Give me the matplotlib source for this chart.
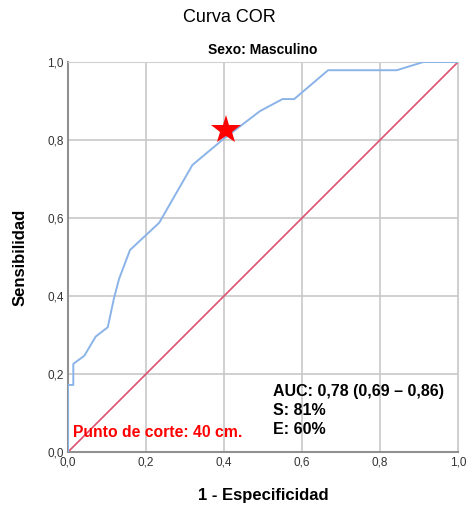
import matplotlib
matplotlib.use("Agg")
import matplotlib.pyplot as plt
from matplotlib.ticker import FuncFormatter

# ROC curve
fpr = [0.0, 0.0, 0.0136, 0.0136, 0.042, 0.071, 0.102, 0.118, 0.131, 0.159,
       0.234, 0.319, 0.398, 0.492, 0.55, 0.58, 0.667, 0.843, 0.911, 1.0]
tpr = [0.0, 0.172, 0.172, 0.226, 0.247, 0.296, 0.32, 0.395, 0.444, 0.518,
       0.588, 0.736, 0.802, 0.874, 0.905, 0.905, 0.979, 0.979, 1.0, 1.0]
cut_x, cut_y = 0.405, 0.825
ticks = [0.0, 0.2, 0.4, 0.6, 0.8, 1.0]

plt.rcParams['font.family'] = ['Liberation Sans', 'DejaVu Sans']

fig = plt.figure(figsize=(4.68, 5.08), dpi=100)
ax = fig.add_axes([0.1453, 0.1102, 0.8333, 0.7677])

ax.plot([0, 1], [0, 1], color='#e0506e', lw=1.2, zorder=2)
ax.plot(fpr, tpr, color='#8ab4e8', lw=1.4, zorder=3)
ax.plot(cut_x, cut_y, marker='*', color='red', markersize=22, zorder=4,
        markeredgewidth=0)

ax.set_xlim(0, 1)
ax.set_ylim(0, 1)
ax.set_xticks(ticks)
ax.set_yticks(ticks)
fmt = FuncFormatter(lambda v, p: f"{v:.1f}".replace('.', ','))
ax.xaxis.set_major_formatter(fmt)
ax.yaxis.set_major_formatter(fmt)
ax.tick_params(length=0, labelsize=8.5, colors='#333333', pad=3)
ax.grid(True, color='#c8c8c8', lw=1.2)
ax.set_axisbelow(True)
for side in ['top', 'right']:
    ax.spines[side].set_color('#d0d0d0')
for side in ['left', 'bottom']:
    ax.spines[side].set_color('#909090')
    ax.spines[side].set_linewidth(1.5)

ax.set_xlabel('1 - Especificidad', fontsize=12, fontweight='bold', labelpad=14)
ax.set_ylabel('Sensibilidad', fontsize=12, fontweight='bold', labelpad=14)
ax.set_title('Sexo: Masculino', fontsize=10, fontweight='bold', pad=6)
fig.text(0.49, 0.965, 'Curva COR', ha='center', va='center', fontsize=13)

ax.text(0.013, 0.051, 'Punto de corte: 40 cm.', color='red', fontsize=11.3,
        fontweight='bold', va='center')
ax.text(0.525, 0.106, 'AUC: 0,78 (0,69 – 0,86)\nS: 81%\nE: 60%', color='black',
        fontsize=11.5, fontweight='bold', linespacing=1.35, va='center')

fig.savefig('out.png', dpi=100)
